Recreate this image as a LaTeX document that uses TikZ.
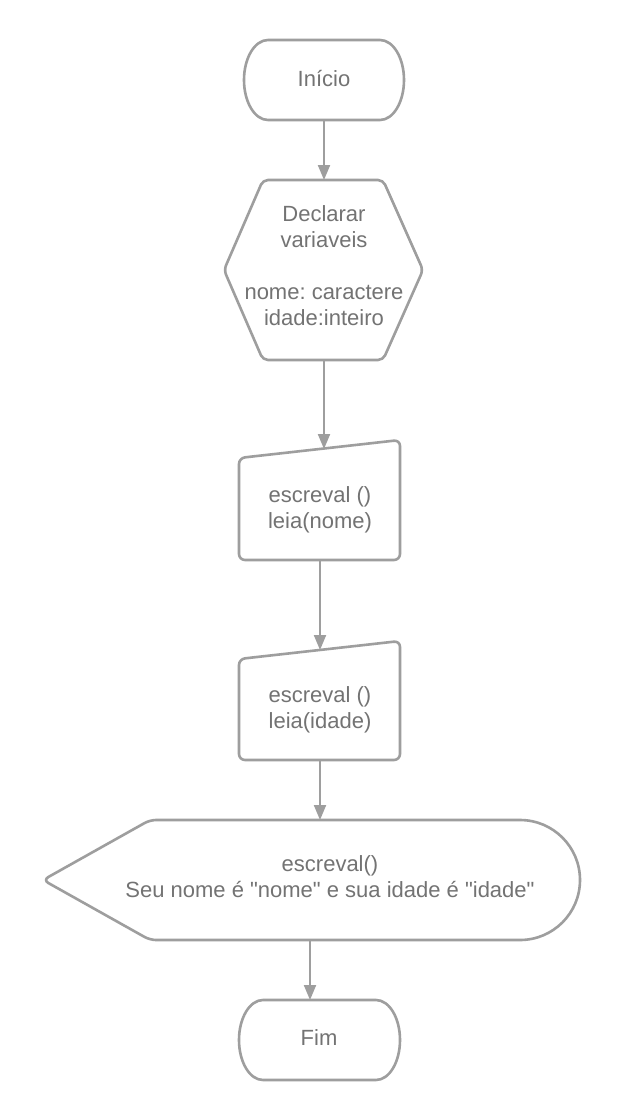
\documentclass[tikz,border=0pt]{standalone}
\usepackage{fontspec}
\setmainfont{Liberation Sans}[Ligatures=TeXOff]
\usetikzlibrary{arrows.meta}
\definecolor{linegray}{HTML}{9E9E9E}
\definecolor{textgray}{HTML}{737373}
\frenchspacing
\tikzset{
  shapeline/.style={draw=linegray, line width=2.6pt, line join=round, fill=white},
  conn/.style={draw=linegray, line width=2pt, -{Triangle[length=15pt,width=12pt]}},
  lbl/.style={text=textgray, align=center, inner sep=0pt, font=\fontsize{22}{26}\selectfont},
}
\begin{document}
\begin{tikzpicture}[x=1pt,y=-1pt]
\useasboundingbox[fill=white] (0,0) rectangle (620,1120);

% Inicio (terminal)
\draw[shapeline] (268,40) -- (380,40) arc[start angle=-90,end angle=90,x radius=24,y radius=40]
  -- (268,120) arc[start angle=90,end angle=270,x radius=24,y radius=40] -- cycle;
\node[lbl] (inicio) at (324,79) {Início};
\coordinate (inicio-s) at (324,120);

% Declarar variaveis (hexagon)
\draw[shapeline, rounded corners=5pt] (323,180) -- (383,180) -- (423,270) -- (383,360) -- (263,360) -- (224,270) -- (263,180) -- cycle;
\node[lbl] (decl) at (324,266) {Declarar\\variaveis\\[26pt]nome: caractere\\idade:inteiro};
\coordinate (decl-n) at (324,180);
\coordinate (decl-s) at (324,360);

% escreval / leia(nome) (manual input)
\draw[shapeline, rounded corners=6pt] (239,510) -- (239,458) -- (400,440) -- (400,560) -- (239,560) -- cycle;
\node[lbl] (leianome) at (320,510) {escreval ()\\leia(nome)};
\coordinate (leianome-n) at (324,449);
\coordinate (leianome-s) at (320,560);

% escreval / leia(idade) (manual input)
\draw[shapeline, rounded corners=6pt] (239,710) -- (239,659) -- (400,641) -- (400,760) -- (239,760) -- cycle;
\node[lbl] (leiaidade) at (320,710) {escreval ()\\leia(idade)};
\coordinate (leiaidade-n) at (320,650);
\coordinate (leiaidade-s) at (320,760);

% Display
\draw[shapeline] (300,820) -- (520,820) arc[start angle=-90,end angle=90,radius=60]
  -- (300,940) [rounded corners=6pt] -- (150,940) -- (43,880) -- (150,820) -- (300,820);
\node[lbl] (display) at (330,877) {escreval()\\Seu nome é "nome" e sua idade é "idade"};
\coordinate (display-n) at (320,820);
\coordinate (display-s) at (310,940);

% Fim (terminal)
\draw[shapeline] (263,1000) -- (376,1000) arc[start angle=-90,end angle=90,x radius=24,y radius=40]
  -- (263,1080) arc[start angle=90,end angle=270,x radius=24,y radius=40] -- cycle;
\node[lbl] (fim) at (319,1038) {Fim};
\coordinate (fim-n) at (310,1000);

% connectors
\draw[conn] (inicio-s) -- (decl-n);
\draw[conn] (decl-s) -- (leianome-n);
\draw[conn] (leianome-s) -- (leiaidade-n);
\draw[conn] (leiaidade-s) -- (display-n);
\draw[conn] (display-s) -- (fim-n);
\end{tikzpicture}
\end{document}
